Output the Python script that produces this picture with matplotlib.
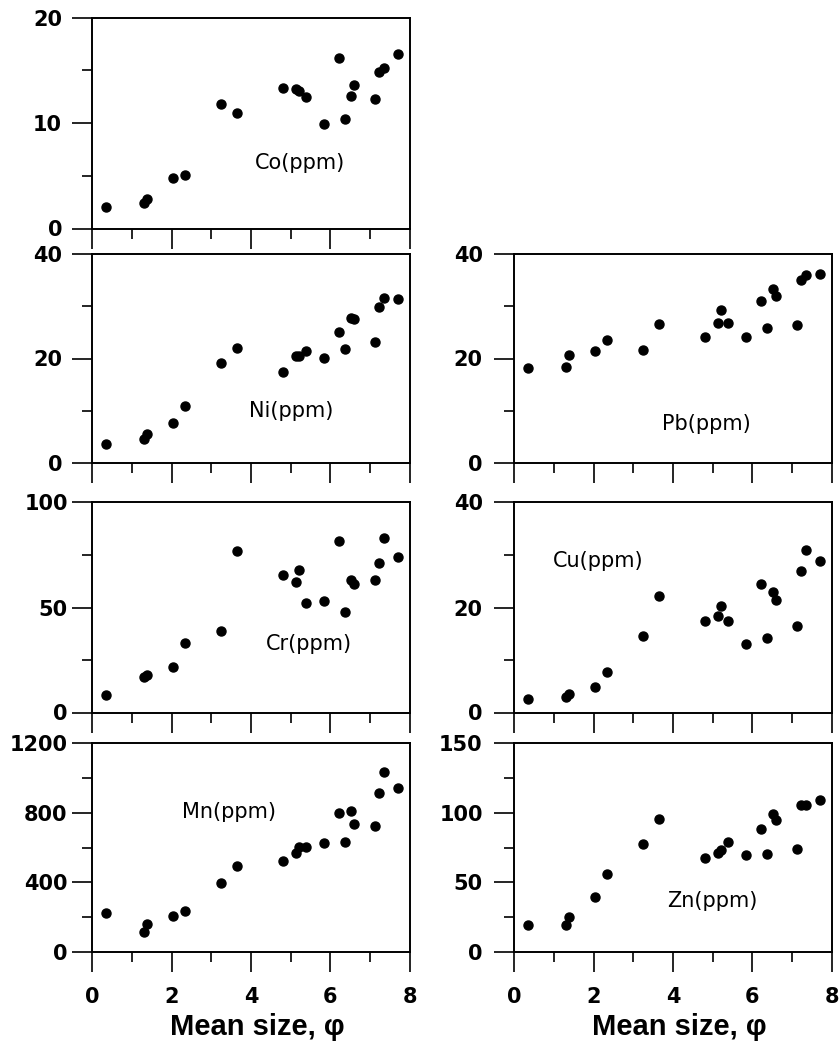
import matplotlib.pyplot as plt
from matplotlib.ticker import MultipleLocator

# -----------------------------
# Data
# -----------------------------
mean_size = [0.36, 1.32, 1.38, 2.03, 2.35, 3.24, 3.65, 4.80, 5.13, 5.21,
             5.38, 5.84, 6.21, 6.37, 6.52, 6.60, 7.12, 7.21, 7.35, 7.69]

co = [2.05, 2.43, 2.84, 4.8, 5.05, 11.78, 10.99, 13.36, 13.27, 13.05,
      12.45, 9.92, 16.2, 10.39, 12.54, 13.61, 12.29, 14.82, 15.19, 16.52]
ni = [3.7, 4.5, 5.6, 7.7, 11.0, 19.1, 22.1, 17.4, 20.4, 20.5,
      21.5, 20.1, 25.0, 21.9, 27.8, 27.5, 23.1, 29.9, 31.5, 31.3]
cr = [8.2, 16.9, 17.7, 21.8, 33.1, 38.6, 77.0, 65.3, 62.1, 68.0,
      52.2, 53.2, 81.7, 47.9, 63.1, 61.4, 63.1, 71.0, 83.1, 74.0]
mn = [222, 113, 161, 209, 235, 394, 494, 526, 567, 605,
      605, 624, 802, 633, 811, 735, 723, 917, 1033, 944]
pb = [18.2, 18.4, 20.7, 21.5, 23.6, 21.6, 26.6, 24.1, 26.7, 29.2,
      26.7, 24.2, 31.1, 25.9, 33.3, 32.0, 26.4, 35.0, 36.0, 36.2]
cu = [2.5, 3.0, 3.6, 4.8, 7.8, 14.6, 22.1, 17.4, 18.3, 20.3,
      17.5, 13.1, 24.5, 14.2, 22.9, 21.5, 16.4, 27.0, 31.0, 28.9]
zn = [19.2, 19.2, 25.2, 39.6, 56.2, 77.8, 95.5, 67.9, 71.5, 73.4,
      79.4, 69.4, 88.1, 70.3, 99.4, 94.6, 74.2, 105.6, 105.6, 109.2]

# -----------------------------
# Layout (pixels of an 839x1042 canvas)
# -----------------------------
W, H = 839, 1042
cols = {"L": (92, 410), "R": (514, 832)}
rows = [(17.5, 228.5), (254, 463), (502.5, 712.5), (743.3, 952)]

# name, values, column, row, ymax, major, minor, label (x, y), y-label pad
panels = [
    ("Co(ppm)", co, "L", 0, 20, 10, 5, (4.1, 6.2), 7.0),
    ("Ni(ppm)", ni, "L", 1, 40, 20, 10, (3.95, 9.9), 7.0),
    ("Cr(ppm)", cr, "L", 2, 100, 50, 25, (4.38, 32.7), 3.0),
    ("Mn(ppm)", mn, "L", 3, 1200, 400, 200, (2.26, 807), 3.0),
    ("Pb(ppm)", pb, "R", 1, 40, 20, 10, (3.72, 7.5), 8.0),
    ("Cu(ppm)", cu, "R", 2, 40, 20, 10, (0.99, 28.8), 8.0),
    ("Zn(ppm)", zn, "R", 3, 150, 50, 25, (3.86, 36.7), 8.0),
]

fig = plt.figure(figsize=(8.39, 10.42), dpi=100)

tick_font = {"family": "DejaVu Sans", "weight": "bold", "size": 15}

for name, vals, col, row, ymax, major, minor, lab, pad in panels:
    x0, x1 = cols[col]
    top, bot = rows[row]
    ax = fig.add_axes([x0 / W, 1 - bot / H, (x1 - x0) / W, (bot - top) / H])

    ax.plot(mean_size, vals, "o", color="black", markersize=6.5, clip_on=False)

    ax.set_xlim(0, 8)
    ax.set_ylim(0, ymax)
    ax.xaxis.set_major_locator(MultipleLocator(2))
    ax.xaxis.set_minor_locator(MultipleLocator(1))
    ax.yaxis.set_major_locator(MultipleLocator(major))
    ax.yaxis.set_minor_locator(MultipleLocator(minor))

    for s in ax.spines.values():
        s.set_linewidth(1.4)
        s.set_color("black")

    ax.tick_params(which="major", direction="out", length=14.5, width=1.2,
                   color="black")
    ax.tick_params(which="minor", direction="out", length=7, width=1.2,
                   color="black")
    ax.tick_params(axis="y", which="major", pad=pad)
    ax.tick_params(axis="x", which="major", pad=11)

    for t in ax.get_yticklabels():
        t.set_fontproperties(tick_font)

    if row == 3:
        for t in ax.get_xticklabels():
            t.set_fontproperties(tick_font)
        ax.set_xlabel("Mean size, φ", fontsize=21, fontweight="bold",
                      family="Liberation Sans")
        ax.xaxis.set_label_coords(0.52, -0.29)
    else:
        ax.tick_params(axis="x", labelbottom=False)

    ax.text(lab[0], lab[1], name, fontsize=15, family="DejaVu Sans",
            ha="left", va="center")

fig.savefig("out.png", dpi=100)
